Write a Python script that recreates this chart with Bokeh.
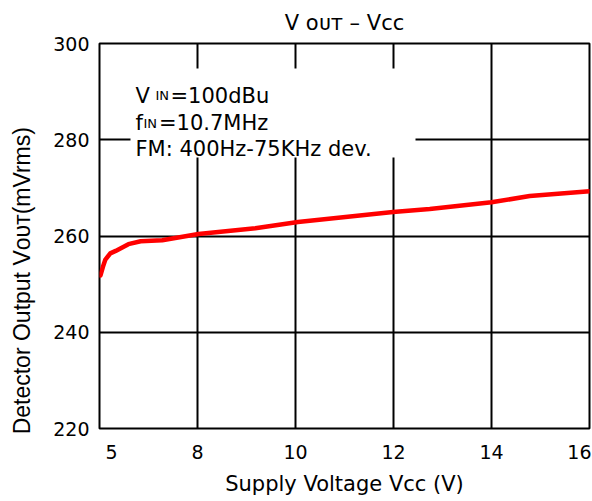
from bokeh.plotting import figure
from bokeh.models import Range1d, FixedTicker, Label, BoxAnnotation
from bokeh.embed import file_html
from bokeh.resources import INLINE

# ---- data ----
vcc = [6.02, 6.07, 6.12, 6.22, 6.33, 6.59, 6.84, 7.28, 8.02, 9.18, 10.05, 11.99, 12.74, 14.0, 14.78, 16.0]
vout = [251.8, 253.6, 255.1, 256.4, 256.9, 258.3, 258.9, 259.1, 260.4, 261.6, 262.9, 265.0, 265.6, 267.0, 268.3, 269.3]

x_tick_pos = [6.245, 8, 10, 12, 14, 15.8]
x_tick_labels = ["5", "8", "10", "12", "14", "16"]
x_grid = [8, 10, 12, 14]
y_ticks = [220, 240, 260, 280, 300]
y_grid = [240, 260, 280]

title_text = "V \u1d0f\u1d1c\u1d1b \u2013 Vcc"
x_label = "Supply Voltage Vcc (V)"
# trailing no-break spaces push the centred label down towards the frame bottom
y_label = "Detector Output V\u1d0f\u1d1c\u1d1b(mVrms)" + "\u00a0" * 14

FONT = "DejaVu Sans"
YFONT = "Liberation Sans"
X0, X1, Y0, Y1 = 6, 16, 220, 300
W, H = 591, 500
ML, MR, MT, MB = 99, 2, 43, 72
FW = W - ML - MR
FH = H - MT - MB


def dx(px):
    return X0 + px * (X1 - X0) / FW


def dy(py):
    return Y0 + py * (Y1 - Y0) / FH


p = figure(width=W, height=H, output_backend="svg", toolbar_location=None,
           x_range=Range1d(X0, X1), y_range=Range1d(Y0, Y1),
           min_border_left=ML, min_border_right=MR, min_border_top=MT, min_border_bottom=MB)
p.background_fill_color = "white"
p.border_fill_color = "white"
p.outline_line_color = "black"
p.outline_line_width = 2
p.outline_line_alpha = 1

# title
p.title.text = title_text
p.title.align = "center"
p.title.text_font = FONT
p.title.text_font_size = "21px"
p.title.text_font_style = "normal"
p.title.text_color = "black"
p.title.standoff = 17

# grid
p.xgrid.ticker = FixedTicker(ticks=x_grid)
p.ygrid.ticker = FixedTicker(ticks=y_grid)
for g in (p.xgrid, p.ygrid):
    g.grid_line_color = "black"
    g.grid_line_width = 2
    g.grid_line_alpha = 1

# axes
p.xaxis.ticker = FixedTicker(ticks=x_tick_pos)
p.xaxis.major_label_overrides = {pos: lab for pos, lab in zip(x_tick_pos, x_tick_labels)}
p.yaxis.ticker = FixedTicker(ticks=y_ticks)
p.xaxis.axis_label = x_label
p.yaxis.axis_label = y_label
for ax in (p.xaxis, p.yaxis):
    ax.axis_line_color = None
    ax.major_tick_line_color = None
    ax.minor_tick_line_color = None
    ax.major_tick_out = 0
    ax.major_tick_in = 0
    ax.major_label_text_font = FONT
    ax.major_label_text_font_size = "19px"
    ax.major_label_text_color = "black"
    ax.axis_label_text_font_style = "normal"
    ax.axis_label_text_color = "black"
p.xaxis.major_label_standoff = 16
p.yaxis.major_label_standoff = 10
p.xaxis.axis_label_text_font = FONT
p.xaxis.axis_label_text_font_size = "21px"
p.xaxis.axis_label_standoff = 10
p.yaxis.axis_label_text_font = YFONT
p.yaxis.axis_label_text_font_size = "23px"
p.yaxis.axis_label_standoff = 15

# white box behind the annotation text
p.add_layout(BoxAnnotation(left=dx(31), right=dx(316), bottom=dy(271), top=dy(360),
                           fill_color="white", fill_alpha=1, line_color=None, level="annotation"))

# curve
p.line(vcc, vout, line_color="#ff0000", line_width=4.5, line_join="round", line_cap="round")


def lab(fx, fy, text, size):
    p.add_layout(Label(x=dx(fx), y=dy(fy), text=text, text_font=FONT, text_font_size=size,
                       text_color="black", text_align="left", text_baseline="alphabetic"))


# annotation text in the plot
lab(36, 333, "V", "21px")
lab(56, 333, "IN", "13px")
lab(71, 333, "=100dBu", "21px")
lab(36, 305.3, "f", "21px")
lab(44, 305.3, "IN", "13px")
lab(59.5, 305.3, "=10.7MHz", "21px")
lab(36, 279.7, "FM: 400Hz-75KHz dev.", "21px")

open("out.html", "w").write(file_html(p, INLINE))
